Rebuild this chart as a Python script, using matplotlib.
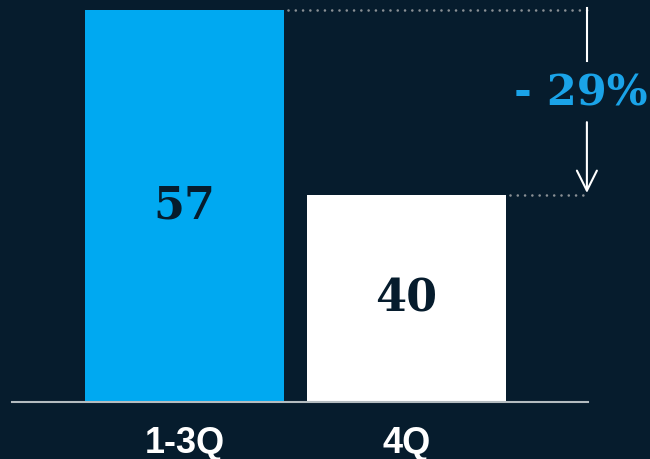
import matplotlib
matplotlib.use("Agg")
import matplotlib.pyplot as plt

# Data
periods = ["1-3Q", "4Q"]
values = [57, 40]
change_label = "- 29%"

BG = "#061c2d"
BAR_COLORS = ["#00a9f1", "#ffffff"]
ACCENT = "#1aa3e8"
Y_FLOOR = 21  # value axis does not start at zero

fig = plt.figure(figsize=(6.5, 4.59), dpi=100, facecolor=BG)
ax = fig.add_axes([12 / 650, 57 / 459, 576 / 650, 392 / 459])
ax.set_facecolor(BG)

x = list(range(len(periods)))
bar_w = 0.896
bars = ax.bar(x, values, width=bar_w, color=BAR_COLORS, bottom=0, zorder=2)
ax.set_xlim(-0.777, 1.818)
ax.set_ylim(Y_FLOOR, max(values))

# value labels inside the bars
for xi, v in zip(x, values):
    ax.text(xi, (Y_FLOOR + v) / 2, str(v), ha="center", va="center",
            color=BG, fontsize=32, fontweight="bold", family="DejaVu Serif",
            zorder=3)

# baseline and axes styling
for side in ["top", "right", "left"]:
    ax.spines[side].set_visible(False)
ax.spines["bottom"].set_color("#b4bcc0")
ax.spines["bottom"].set_linewidth(1.5)
ax.spines["bottom"].set_zorder(4)
ax.set_yticks([])
ax.set_xticks(x)
ax.set_xticklabels(periods, color="white", fontsize=26, fontweight="bold",
                   family="Liberation Sans")
ax.tick_params(axis="x", length=0, pad=17)

# dotted guides from each bar top to the change arrow
arrow_x = 1.813
dot_style = dict(color="#8a9095", linewidth=1.9, linestyle=(0, (0.01, 2.75)),
                 dash_capstyle="round", clip_on=False, zorder=1)
ax.plot([x[0] + bar_w / 2 + 0.02, arrow_x], [values[0], values[0]], **dot_style)
ax.plot([x[1] + bar_w / 2 + 0.02, arrow_x], [values[1], values[1]], **dot_style)

# change arrow, broken around the percentage label
ax.plot([arrow_x, arrow_x], [values[0] + 0.18, 52.3], color="white",
        linewidth=1.5, clip_on=False)
ax.annotate("", xy=(arrow_x, values[1] + 0.2), xytext=(arrow_x, 46.7),
            arrowprops=dict(arrowstyle="->, head_length=0.4, head_width=0.2",
                            color="white", lw=1.5, mutation_scale=36,
                            shrinkA=0, shrinkB=0),
            annotation_clip=False)
ax.text(1.784, 49.3, change_label, ha="center", va="center", color=ACCENT,
        fontsize=31, fontweight="bold", family="DejaVu Serif", clip_on=False)

fig.savefig("out.png", dpi=100, facecolor=BG)
